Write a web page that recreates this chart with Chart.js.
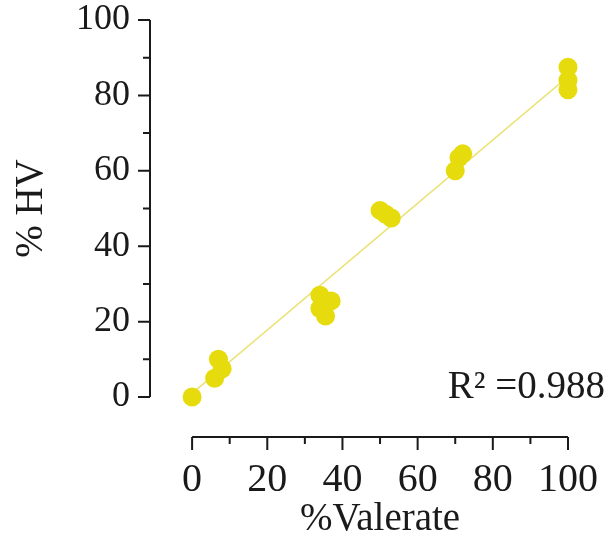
<!DOCTYPE html>
<html>
<head>
<meta charset="utf-8">
<script src="https://cdn.jsdelivr.net/npm/chart.js@4.4.1/dist/chart.umd.min.js"></script>
<style>
  html, body { margin: 0; padding: 0; background: #fff; }
  #wrap { width: 607px; height: 534px; }
</style>
</head>
<body>
<div id="wrap"><canvas id="myChart"></canvas></div>
<script>
// measured points (%Valerate vs %HV)
const valerate = [0, 6, 7, 8, 34, 37, 34, 35.5, 50, 51.5, 53, 70, 71, 72, 100, 100, 100];
const hv = [0, 5, 10, 7.5, 27, 25.5, 23.5, 21.5, 49.5, 48.5, 47.5, 60, 63.5, 64.5, 87.5, 84, 81.5];

// linear fit endpoints
const fitX = [0, 100];
const fitY = [1, 85];

const xTicks = [0, 20, 40, 60, 80, 100];
const yTicks = [0, 20, 40, 60, 80, 100];
const xMinor = [10, 30, 50, 70, 90];
const yMinor = [10, 30, 50, 70, 90];

const xTitle = '%Valerate';
const yTitle = '% HV';
const r2Label = 'R\u00B2 =0.988';

const serif = '"Liberation Serif", "Times New Roman", serif';
const ink = '#1a1a1a';

// axis lines + tick marks drawn only over 0..100, offset from the data like Prism
const offsetAxes = {
  id: 'offsetAxes',
  afterDraw(chart) {
    const { ctx, chartArea, scales: { x, y } } = chart;
    const ax = chartArea.left;
    const ay = chartArea.bottom;
    ctx.save();
    ctx.strokeStyle = ink;
    ctx.lineWidth = 2;
    ctx.lineCap = 'butt';

    ctx.beginPath();
    ctx.moveTo(ax, y.getPixelForValue(yTicks[0]));
    ctx.lineTo(ax, y.getPixelForValue(yTicks[yTicks.length - 1]));
    ctx.moveTo(x.getPixelForValue(xTicks[0]), ay);
    ctx.lineTo(x.getPixelForValue(xTicks[xTicks.length - 1]), ay);
    yTicks.forEach(v => { const p = y.getPixelForValue(v); ctx.moveTo(ax - 12, p); ctx.lineTo(ax, p); });
    yMinor.forEach(v => { const p = y.getPixelForValue(v); ctx.moveTo(ax - 7, p); ctx.lineTo(ax, p); });
    xTicks.forEach(v => { const p = x.getPixelForValue(v); ctx.moveTo(p, ay); ctx.lineTo(p, ay + 13); });
    xMinor.forEach(v => { const p = x.getPixelForValue(v); ctx.moveTo(p, ay); ctx.lineTo(p, ay + 7); });
    ctx.stroke();

    // titles centred on the 0..100 span
    ctx.fillStyle = ink;
    ctx.font = '39px ' + serif;
    ctx.textAlign = 'center';
    ctx.textBaseline = 'alphabetic';
    const xc = (x.getPixelForValue(0) + x.getPixelForValue(100)) / 2;
    ctx.fillText(xTitle, xc, 530);

    const yc = (y.getPixelForValue(0) + y.getPixelForValue(100)) / 2;
    ctx.save();
    ctx.translate(42, yc);
    ctx.rotate(-Math.PI / 2);
    ctx.fillText(yTitle, 0, 0);
    ctx.restore();

    ctx.font = '39px ' + serif;
    ctx.textAlign = 'right';
    ctx.fillText(r2Label, 605, 398);
    ctx.restore();
  }
};

const ctx = document.getElementById('myChart');

new Chart(ctx, {
  type: 'scatter',
  data: {
    datasets: [
      {
        label: 'fit',
        data: fitX.map((v, i) => ({ x: v, y: fitY[i] })),
        showLine: true,
        borderColor: '#ebe37a',
        borderWidth: 1.6,
        pointRadius: 0,
        clip: false,
        order: 2
      },
      {
        label: 'HV',
        data: valerate.map((v, i) => ({ x: v, y: hv[i] })),
        backgroundColor: '#e6db0d',
        borderColor: '#e6db0d',
        borderWidth: 0,
        pointRadius: 9.5,
        pointHoverRadius: 9.5,
        clip: false,
        order: 1
      }
    ]
  },
  options: {
    responsive: true,
    maintainAspectRatio: false,
    animation: false,
    layout: { padding: { top: 20, right: 39, left: 0, bottom: 0 } },
    plugins: {
      legend: { display: false },
      tooltip: { enabled: false }
    },
    scales: {
      x: {
        type: 'linear',
        min: -11.2,
        max: 100,
        grid: { display: false, drawTicks: false },
        border: { display: false },
        afterBuildTicks: s => { s.ticks = xTicks.map(v => ({ value: v })); },
        afterFit: s => { s.height = 97; s.paddingLeft = 0; s.paddingRight = 0; },
        ticks: {
          padding: 19,
          maxRotation: 0,
          autoSkip: false,
          color: ink,
          font: { family: serif, size: 40 }
        }
      },
      y: {
        type: 'linear',
        min: -10.6,
        max: 100,
        grid: { display: false, drawTicks: false },
        border: { display: false },
        afterBuildTicks: s => { s.ticks = yTicks.map(v => ({ value: v })); },
        afterFit: s => { s.width = 150; s.paddingTop = 0; s.paddingBottom = 0; },
        ticks: {
          padding: 20,
          autoSkip: false,
          color: ink,
          font: { family: serif, size: 36 }
        }
      }
    }
  },
  plugins: [offsetAxes]
});
</script>
</body>
</html>
